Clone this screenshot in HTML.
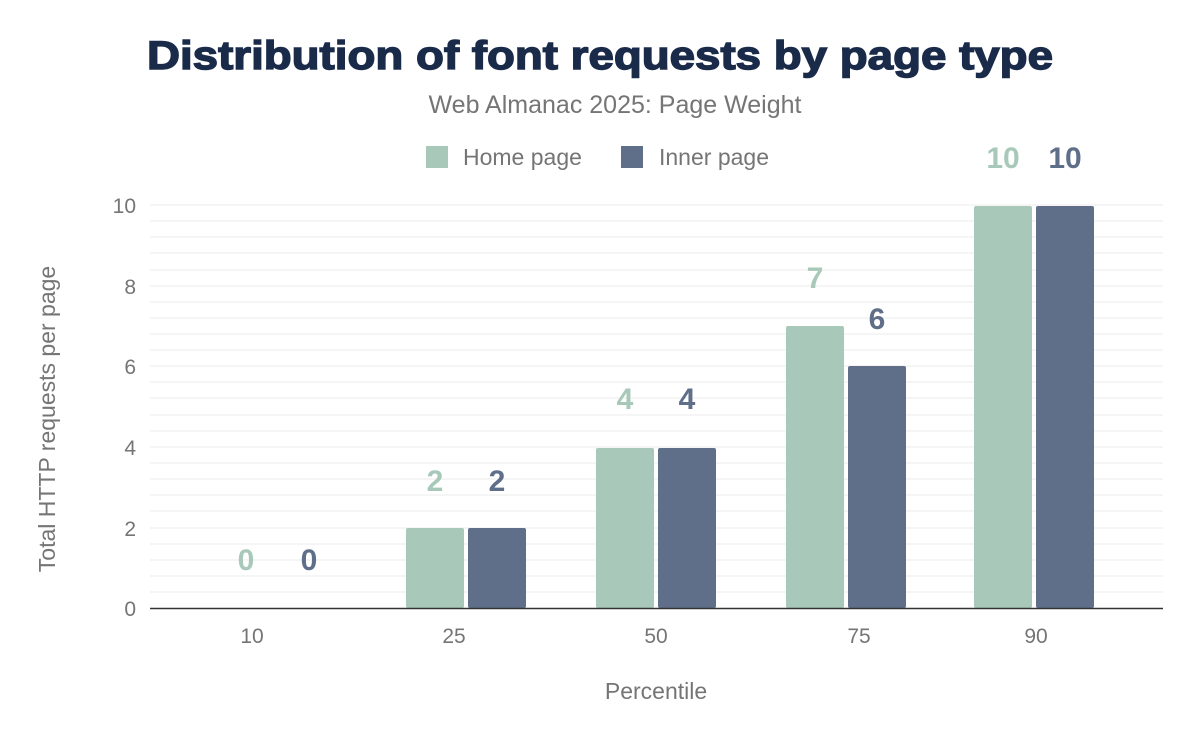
<!DOCTYPE html>
<html><head><style>
body{margin:0;background:#fff;width:1200px;height:742px;overflow:hidden;font-family:"Liberation Sans",sans-serif}
</style></head><body>
<svg width="1200" height="742" xmlns="http://www.w3.org/2000/svg" font-family="Liberation Sans, sans-serif">
<text x="147" y="69" textLength="906" lengthAdjust="spacingAndGlyphs" font-size="40" font-weight="900" fill="#1a2b4a" stroke="#1a2b4a" stroke-width="1.4">Distribution of font requests by page type</text>
<text x="615" y="113" text-anchor="middle" font-size="25" fill="#757575">Web Almanac 2025: Page Weight</text>
<rect x="426" y="146" width="22" height="22" fill="#a8c9b9"/>
<text x="463" y="165" font-size="23" fill="#757575">Home page</text>
<rect x="621" y="146" width="22" height="22" fill="#5f6f89"/>
<text x="659" y="165" font-size="23" fill="#757575">Inner page</text>
<g stroke="#f2f2f2" stroke-width="1.5">
<line x1="150" x2="1163" y1="205" y2="205"/><line x1="150" x2="1163" y1="221" y2="221"/><line x1="150" x2="1163" y1="237" y2="237"/><line x1="150" x2="1163" y1="253" y2="253"/><line x1="150" x2="1163" y1="270" y2="270"/>
<line x1="150" x2="1163" y1="286" y2="286"/><line x1="150" x2="1163" y1="302" y2="302"/><line x1="150" x2="1163" y1="318" y2="318"/><line x1="150" x2="1163" y1="334" y2="334"/><line x1="150" x2="1163" y1="350" y2="350"/>
<line x1="150" x2="1163" y1="366" y2="366"/><line x1="150" x2="1163" y1="382" y2="382"/><line x1="150" x2="1163" y1="398" y2="398"/><line x1="150" x2="1163" y1="415" y2="415"/><line x1="150" x2="1163" y1="431" y2="431"/>
<line x1="150" x2="1163" y1="447" y2="447"/><line x1="150" x2="1163" y1="463" y2="463"/><line x1="150" x2="1163" y1="479" y2="479"/><line x1="150" x2="1163" y1="495" y2="495"/><line x1="150" x2="1163" y1="511" y2="511"/>
<line x1="150" x2="1163" y1="528" y2="528"/><line x1="150" x2="1163" y1="544" y2="544"/><line x1="150" x2="1163" y1="560" y2="560"/><line x1="150" x2="1163" y1="576" y2="576"/><line x1="150" x2="1163" y1="592" y2="592"/>
</g>
<g font-size="21" fill="#757575" text-anchor="end">
<text x="136" y="213">10</text><text x="136" y="294">8</text><text x="136" y="374">6</text><text x="136" y="455">4</text><text x="136" y="536">2</text><text x="136" y="616">0</text>
</g>
<g fill="#a8c9b9">
<rect x="406" y="528" width="58" height="80" rx="2"/><rect x="596" y="448" width="58" height="160" rx="2"/><rect x="786" y="326" width="58" height="282" rx="2"/><rect x="974" y="206" width="58" height="402" rx="2"/>
</g>
<g fill="#5f6f89">
<rect x="468" y="528" width="58" height="80" rx="2"/><rect x="658" y="448" width="58" height="160" rx="2"/><rect x="848" y="366" width="58" height="242" rx="2"/><rect x="1036" y="206" width="58" height="402" rx="2"/>
</g>
<line x1="150" x2="1163" y1="608.5" y2="608.5" stroke="#333" stroke-width="1.5"/>
<g font-size="30" font-weight="bold" text-anchor="middle">
<text x="246" y="570" fill="#a8c9b9">0</text><text x="309" y="570" fill="#5f6f89">0</text>
<text x="435" y="491" fill="#a8c9b9">2</text><text x="497" y="491" fill="#5f6f89">2</text>
<text x="625" y="409" fill="#a8c9b9">4</text><text x="687" y="409" fill="#5f6f89">4</text>
<text x="815" y="288" fill="#a8c9b9">7</text><text x="877" y="329" fill="#5f6f89">6</text>
<text x="1003" y="168" fill="#a8c9b9">10</text><text x="1065" y="168" fill="#5f6f89">10</text>
</g>
<g font-size="21" fill="#757575" text-anchor="middle">
<text x="252" y="643">10</text><text x="454" y="643">25</text><text x="656" y="643">50</text><text x="859" y="643">75</text><text x="1036" y="643">90</text>
</g>
<text x="656" y="699" text-anchor="middle" font-size="23" fill="#757575">Percentile</text>
<text transform="translate(55,419) rotate(-90)" text-anchor="middle" font-size="23" fill="#757575">Total HTTP requests per page</text>
</svg>
</body></html>
